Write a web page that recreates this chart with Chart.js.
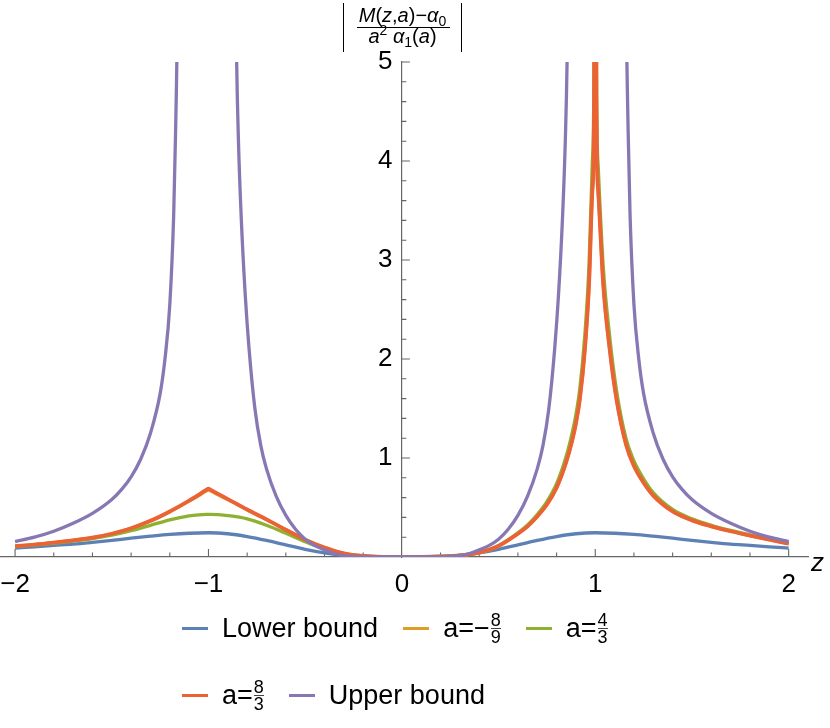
<!DOCTYPE html>
<html>
<head>
<meta charset="utf-8">
<script src="https://cdn.jsdelivr.net/npm/chart.js@4.4.1/dist/chart.umd.min.js"></script>
<style>
  html, body { margin: 0; padding: 0; background: #fff; }
  #wrap { position: relative; width: 830px; height: 728px; font-family: "Liberation Sans", Arial, sans-serif; color: #000; }
  #wrap canvas { position: absolute; left: 0; top: 0; }
  .abs { position: absolute; white-space: nowrap; }
  #ytitle { left: 343px; top: 3px; width: 117px; height: 49px; border-left: 1.8px solid #000; border-right: 1.8px solid #000; font-size: 20px; }
  #ytitle .num, #ytitle .den { position: absolute; left: 0; width: 100%; text-align: center; line-height: 26px; }
  #ytitle .num { top: -1px; }
  #ytitle .den { top: 20px; }
  #ytitle .bar { position: absolute; left: 13px; width: 93px; top: 24px; height: 1.3px; background: #000; }
  #ytitle sub, #ytitle sup { font-size: 70%; line-height: 0; }
  #ytitle sup { vertical-align: 0.55em; }
  #ytitle sub { vertical-align: -0.25em; }
  #zlab { left: 811px; top: 547px; font-size: 26px; font-style: italic; line-height: 30px; }
  .row { position: absolute; left: 182px; display: flex; align-items: center; height: 40px; font-size: 27px; }
  .item { display: flex; align-items: center; margin-right: 25px; }
  .swatch { width: 26px; height: 3px; margin-right: 14px; }
  .txt { line-height: 30px; }
  .frac { display: inline-block; vertical-align: middle; font-size: 18px; line-height: 16px; text-align: center; margin: -12px 0 -12px 1px; position: relative; top: -1px; }
  .frac span { display: block; }
  .frac .d { border-top: 1px solid #444; }
</style>
</head>
<body>
<div id="wrap">
  <canvas id="chart"></canvas>
  <div id="ytitle" class="abs">
    <div class="num"><i>M</i>(<i>z</i>,<i>a</i>)−<i>α</i><sub>0</sub></div>
    <div class="bar"></div>
    <div class="den"><i>a</i><sup>2</sup> <i>α</i><sub>1</sub>(<i>a</i>)</div>
  </div>
  <div id="zlab" class="abs">z</div>
  <div id="row1" class="row" style="top:608px"></div>
  <div id="row2" class="row" style="top:675px"></div>
</div>
<script>
// tick labels
const X_TICKS = [-2, -1, 0, 1, 2];
const Y_TICKS = [1, 2, 3, 4, 5];

// series names and colours
const SERIES_LABELS = ['Lower bound', 'a=−8/9', 'a=4/3', 'a=8/3', 'Upper bound'];
const SERIES_COLORS = ['#5E81B5', '#E19C24', '#8FB131', '#EB6235', '#8778B3'];

// lower bound
const zLower = [-2, -1.9, -1.8, -1.7, -1.6, -1.5, -1.4, -1.3, -1.2, -1.1, -1, -0.9, -0.8, -0.7, -0.6, -0.5, -0.4, -0.3, -0.2, -0.1,
  0, 0.1, 0.2, 0.3, 0.4, 0.5, 0.6, 0.7, 0.8, 0.9, 1, 1.1, 1.2, 1.3, 1.4, 1.5, 1.6, 1.7, 1.8, 1.9, 2];
const lowerVals = [0.09, 0.103, 0.117, 0.13, 0.148, 0.168, 0.19, 0.21, 0.228, 0.24, 0.245, 0.235, 0.207, 0.168, 0.122, 0.078, 0.042, 0.017, 0.004, 0.0003,
  0, 0.0003, 0.004, 0.017, 0.042, 0.078, 0.122, 0.168, 0.207, 0.235, 0.245, 0.24, 0.228, 0.21, 0.19, 0.168, 0.148, 0.13, 0.117, 0.103, 0.09];

// the three a curves share one z grid
const zA = [-2, -1.9, -1.8, -1.7, -1.6, -1.5, -1.4, -1.3, -1.2, -1.1, -1.05, -1.01, -1, -0.99, -0.95,
  -0.9, -0.8, -0.7, -0.6, -0.5, -0.4, -0.3, -0.2, -0.1, 0,
  0.1, 0.2, 0.3, 0.4, 0.5, 0.6, 0.65, 0.7, 0.75, 0.8, 0.85, 0.88, 0.9, 0.92, 0.946, 0.968, 0.985, 0.994, 1,
  1.006, 1.015, 1.041, 1.075, 1.11, 1.16, 1.2, 1.25, 1.3, 1.4, 1.5, 1.6, 1.7, 1.8, 1.9, 2];
const aNeg89 = [0.11, 0.125, 0.145, 0.168, 0.195, 0.235, 0.29, 0.365, 0.458, 0.565, 0.62, 0.668, 0.676, 0.668, 0.628,
  0.58, 0.478, 0.379, 0.275, 0.175, 0.095, 0.037, 0.01, 0.001, 0,
  0.0005, 0.005, 0.016, 0.045, 0.112, 0.235, 0.31, 0.41, 0.53, 0.7, 0.96, 1.17, 1.35, 1.59, 2.09, 2.76, 3.7, 4.6, 12,
  4.6, 3.7, 2.76, 2.09, 1.59, 1.13, 0.92, 0.75, 0.62, 0.46, 0.37, 0.31, 0.26, 0.217, 0.175, 0.135];
const a43 = [0.105, 0.12, 0.138, 0.16, 0.185, 0.22, 0.265, 0.32, 0.375, 0.415, 0.426, 0.43, 0.43, 0.43, 0.427,
  0.418, 0.385, 0.32, 0.24, 0.155, 0.082, 0.032, 0.008, 0.0006, 0,
  0.0005, 0.005, 0.017, 0.047, 0.117, 0.245, 0.325, 0.43, 0.56, 0.74, 1.02, 1.25, 1.44, 1.7, 2.24, 2.97, 4.0, 5.1, 12,
  5.0, 3.95, 2.94, 2.22, 1.68, 1.19, 0.97, 0.79, 0.65, 0.48, 0.385, 0.32, 0.268, 0.224, 0.18, 0.14];
const a83 = [0.11, 0.125, 0.145, 0.168, 0.195, 0.235, 0.29, 0.365, 0.46, 0.57, 0.63, 0.68, 0.69, 0.68, 0.637,
  0.585, 0.48, 0.38, 0.275, 0.175, 0.095, 0.037, 0.01, 0.001, 0,
  0.0005, 0.005, 0.016, 0.045, 0.112, 0.235, 0.31, 0.41, 0.53, 0.7, 0.96, 1.17, 1.35, 1.59, 2.09, 2.76, 3.7, 4.6, 12,
  4.6, 3.7, 2.76, 2.09, 1.59, 1.13, 0.92, 0.75, 0.62, 0.46, 0.37, 0.31, 0.26, 0.217, 0.175, 0.135];

// upper bound (null = break between the two poles)
const zUpper = [-2, -1.9, -1.8, -1.7, -1.6, -1.5, -1.45, -1.4, -1.35, -1.3, -1.25, -1.225, -1.2, -1.18, -1.17, -1.16, -1.152,
  -1, -0.862, -0.855, -0.845, -0.83, -0.81, -0.79, -0.76, -0.73, -0.7, -0.65, -0.6, -0.55, -0.5, -0.45, -0.4, -0.35, -0.3, -0.2, -0.1,
  0, 0.1, 0.2, 0.3, 0.35, 0.4, 0.45, 0.5, 0.55, 0.6, 0.65, 0.7, 0.73, 0.76, 0.79, 0.81, 0.83, 0.845, 0.855, 0.862,
  1, 1.152, 1.16, 1.17, 1.18, 1.2, 1.225, 1.25, 1.3, 1.35, 1.4, 1.45, 1.5, 1.6, 1.7, 1.8, 1.9, 2];
const upperVals = [0.155, 0.2, 0.26, 0.34, 0.44, 0.58, 0.68, 0.81, 0.99, 1.25, 1.65, 2.0, 2.55, 3.45, 4.3, 5.6, 8,
  null, 6.5, 5.1, 4.2, 3.4, 2.65, 2.1, 1.5, 1.13, 0.89, 0.615, 0.42, 0.28, 0.18, 0.115, 0.072, 0.035, 0.013, 0.002, 0,
  0, 0, 0.002, 0.013, 0.035, 0.072, 0.115, 0.18, 0.28, 0.42, 0.615, 0.89, 1.13, 1.5, 2.1, 2.65, 3.4, 4.2, 5.1, 6.5,
  null, 8, 5.6, 4.3, 3.45, 2.55, 2.0, 1.65, 1.25, 0.99, 0.81, 0.68, 0.58, 0.44, 0.34, 0.26, 0.2, 0.155];

const SERIES = [
  [zLower, lowerVals],
  [zA, aNeg89],
  [zA, a43],
  [zA, a83],
  [zUpper, upperVals]
];

const AXIS_COLOR = '#666';
const FONT = { family: '"Liberation Sans", Arial, sans-serif', size: 26 };
const fmt = v => (v < 0 ? '−' + Math.abs(v) : String(v));

// Mathematica-style tick marks pointing into the plot
const axisTickMarks = {
  id: 'axisTickMarks',
  beforeDatasetsDraw(chart) {
    const { ctx, scales: { x, y } } = chart;
    const x0 = x.getPixelForValue(0);
    const y0 = y.getPixelForValue(0);
    ctx.save();
    ctx.strokeStyle = AXIS_COLOR;
    ctx.lineWidth = 1.1;
    ctx.beginPath();
    for (let i = -10; i <= 10; i++) {
      if (i === 0) continue;
      const px = x.getPixelForValue(i / 5);
      const len = i % 5 === 0 ? 8 : 4.5;
      ctx.moveTo(px, y0);
      ctx.lineTo(px, y0 - len);
    }
    for (let i = 1; i <= 25; i++) {
      const py = y.getPixelForValue(i / 5);
      const len = i % 5 === 0 ? 8 : 4.5;
      ctx.moveTo(x0, py);
      ctx.lineTo(x0 + len, py);
    }
    ctx.stroke();
    ctx.restore();
  }
};

const datasets = SERIES.map(([zs, vals], i) => ({
  label: SERIES_LABELS[i],
  data: zs.map((z, j) => ({ x: z, y: vals[j] })),
  borderColor: SERIES_COLORS[i],
  borderWidth: i === 3 ? 3.8 : 3.3,
  pointRadius: 0,
  fill: false,
  spanGaps: false,
  cubicInterpolationMode: 'monotone',
  order: SERIES.length - i
}));

new Chart(document.getElementById('chart').getContext('2d'), {
  type: 'line',
  data: { datasets },
  options: {
    responsive: true,
    maintainAspectRatio: false,
    animation: false,
    layout: { padding: { top: 62, left: 0, right: 22, bottom: 0 } },
    plugins: { legend: { display: false }, tooltip: { enabled: false } },
    scales: {
      x: {
        type: 'linear',
        min: -2.078,
        max: 2.1,
        afterBuildTicks: s => { s.ticks = X_TICKS.map(v => ({ value: v })); },
        afterFit: s => { s.height = 171; s.paddingLeft = 0; s.paddingRight = 0; },
        grid: { display: false, drawTicks: false },
        border: { display: true, color: AXIS_COLOR, width: 1.2 },
        ticks: { font: FONT, color: '#000', padding: 12, maxRotation: 0, callback: fmt }
      },
      y: {
        type: 'linear',
        min: 0,
        max: 5,
        position: { x: 0 },
        afterBuildTicks: s => { s.ticks = Y_TICKS.map(v => ({ value: v })); },
        afterFit: s => { s.paddingTop = 0; s.paddingBottom = 0; s.paddingLeft = 0; s.paddingRight = 0; },
        grid: { display: false, drawTicks: false },
        border: { display: true, color: AXIS_COLOR, width: 1.2 },
        // labels sit right against a centred axis, so keep a small gap with trailing spaces
        ticks: { font: FONT, color: '#000', callback: v => fmt(v) + ' \u200A' }
      }
    }
  },
  plugins: [axisTickMarks]
});

// legend with stacked fractions
function legendItem(i) {
  const item = document.createElement('div');
  item.className = 'item';
  const sw = document.createElement('div');
  sw.className = 'swatch';
  sw.style.background = SERIES_COLORS[i];
  item.appendChild(sw);
  const txt = document.createElement('span');
  txt.className = 'txt';
  const m = SERIES_LABELS[i].match(/^(.*?)(\d+)\/(\d+)$/);
  if (m) {
    txt.appendChild(document.createTextNode(m[1]));
    const fr = document.createElement('span');
    fr.className = 'frac';
    const n = document.createElement('span');
    n.textContent = m[2];
    const d = document.createElement('span');
    d.className = 'd';
    d.textContent = m[3];
    fr.appendChild(n);
    fr.appendChild(d);
    txt.appendChild(fr);
  } else {
    txt.textContent = SERIES_LABELS[i];
  }
  item.appendChild(txt);
  return item;
}
[0, 1, 2].forEach(i => document.getElementById('row1').appendChild(legendItem(i)));
[3, 4].forEach(i => document.getElementById('row2').appendChild(legendItem(i)));
</script>
</body>
</html>
